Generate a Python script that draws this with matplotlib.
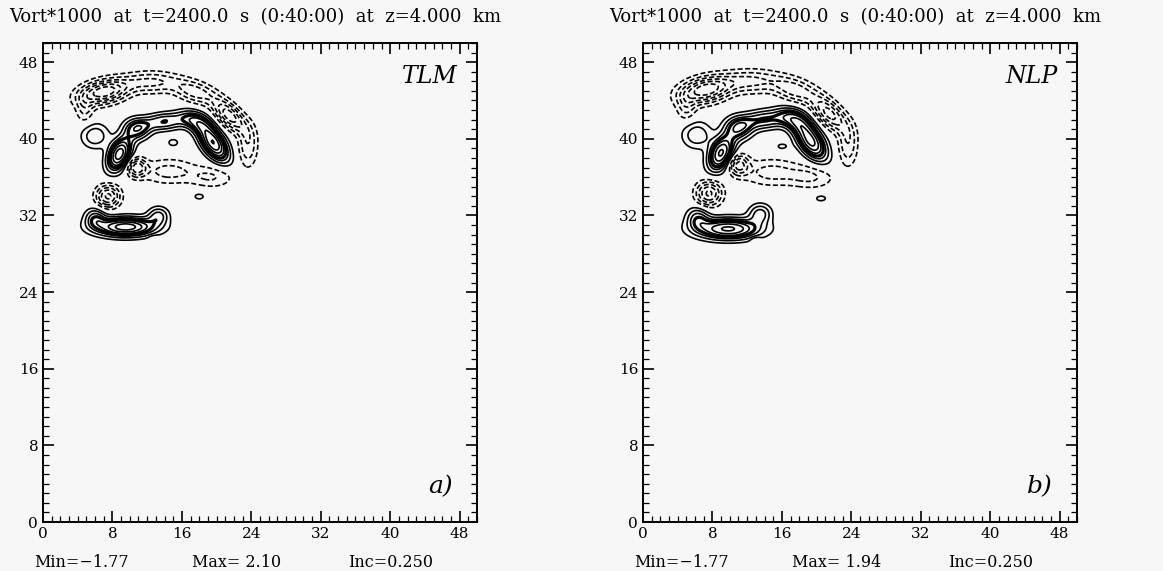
import numpy as np
import matplotlib
matplotlib.use("Agg")
import matplotlib.pyplot as plt
from matplotlib.ticker import MultipleLocator

# Vorticity features: centre x, centre y (km), amplitude,
# half-widths along/across (km), rotation (deg)
TLM_X = [6.0, 8.8, 10.8, 14.0, 17.6, 19.6, 15.0, 18.0, 9.5, 6.0, 13.3,
         7.0, 4.8, 12.5, 17.5, 21.5, 23.6, 10.8, 14.5, 19.5, 7.5, 12.8]
TLM_Y = [40.3, 38.4, 41.0, 41.8, 41.8, 39.6, 39.6, 34.0, 30.8, 31.8, 32.0,
         44.9, 43.0, 45.9, 44.9, 42.4, 39.3, 37.0, 36.6, 36.0, 34.0, 29.5]
TLM_AMP = [0.7, 1.9, 1.1, 1.0, 1.0, 2.0, 0.35, 0.3, 1.9, 0.8, 0.8,
           -1.7, -0.5, -0.8, -0.9, -1.4, -0.7, -1.1, -0.6, -0.5, -1.3, -0.3]
TLM_SX = [1.6, 1.9, 1.5, 2.6, 1.8, 2.3, 0.8, 1.1, 3.6, 1.2, 1.2,
          2.9, 1.0, 3.1, 2.5, 2.3, 1.1, 1.1, 3.2, 2.5, 1.4, 0.6]
TLM_SY = [1.3, 1.2, 1.1, 0.9, 1.0, 1.2, 0.5, 0.6, 1.0, 1.0, 0.9,
          1.2, 1.4, 1.1, 1.1, 1.1, 2.2, 1.0, 1.3, 1.1, 1.2, 0.4]
TLM_ROT = [0, 60, 0, 5, -20, -50, 0, 0, 0, 0, 0,
           10, 0, 0, -15, -40, 0, 0, 0, 0, 0, 0]

NLP_X = [6.2, 9.0, 11.0, 14.0, 17.4, 19.3, 16.0, 20.5, 9.8, 6.3, 13.5,
         7.2, 5.0, 12.5, 17.5, 21.5, 23.6, 11.0, 14.8, 19.5, 7.6, 13.0]
NLP_Y = [40.4, 38.5, 41.1, 42.0, 42.0, 39.8, 39.2, 33.8, 30.6, 31.8, 32.2,
         45.1, 43.2, 46.0, 45.1, 42.6, 39.4, 37.3, 36.5, 36.0, 34.3, 29.4]
NLP_AMP = [0.7, 1.8, 1.1, 1.0, 1.0, 1.85, 0.3, 0.3, 1.8, 0.8, 0.85,
           -1.7, -0.5, -0.8, -0.9, -1.35, -0.7, -1.05, -0.6, -0.5, -1.3, -0.3]
NLP_SX = [1.7, 2.0, 1.6, 2.7, 1.9, 2.4, 1.0, 1.2, 3.8, 1.3, 1.3,
          3.0, 1.1, 3.2, 2.6, 2.4, 1.1, 1.2, 3.4, 2.6, 1.5, 0.6]
NLP_SY = [1.4, 1.3, 1.2, 1.0, 1.1, 1.3, 0.5, 0.6, 1.1, 1.1, 1.0,
          1.3, 1.4, 1.2, 1.2, 1.2, 2.2, 1.1, 1.4, 1.2, 1.3, 0.4]
NLP_ROT = [0, 60, 0, 5, -20, -50, 0, 0, 0, 0, 0,
           10, 0, 0, -15, -40, 0, 0, 0, 0, 0, 0]

TITLE = "Vort*1000  at  t=2400.0  s  (0:40:00)  at  z=4.000  km"
STATS = [("-1.77", " 2.10", "0.250"), ("-1.77", " 1.94", "0.250")]
TAGS = ["TLM", "NLP"]
PANELS = ["a)", "b)"]

SHAPE = 1.1  # slightly flat-topped features

x = np.linspace(0, 50, 401)
y = np.linspace(0, 50, 401)
X, Y = np.meshgrid(x, y)


def field(xs, ys, amps, sxs, sys_, rots):
    z = np.zeros_like(X)
    for cx, cy, a, sx, sy, r in zip(xs, ys, amps, sxs, sys_, rots):
        t = np.deg2rad(r)
        u = (X - cx) * np.cos(t) + (Y - cy) * np.sin(t)
        v = -(X - cx) * np.sin(t) + (Y - cy) * np.cos(t)
        q = (u / sx) ** 2 + (v / sy) ** 2
        z += a * np.exp(-q ** SHAPE)
    return z


fields = [field(TLM_X, TLM_Y, TLM_AMP, TLM_SX, TLM_SY, TLM_ROT),
          field(NLP_X, NLP_Y, NLP_AMP, NLP_SX, NLP_SY, NLP_ROT)]

levels = [l for l in np.arange(-1.75, 2.01, 0.25) if abs(l) > 1e-6]

plt.rcParams['font.family'] = ['DejaVu Serif']
fig = plt.figure(figsize=(11.63, 5.71), dpi=100)
fig.patch.set_facecolor("#f7f7f7")

lefts = [43 / 1163, 643 / 1163]
for i in range(2):
    ax = fig.add_axes([lefts[i], 49 / 571, 434 / 1163, 479 / 571])
    ax.set_facecolor("#f7f7f7")
    z = fields[i]
    styles = [(0, (3, 1.5)) if l < 0 else "-" for l in levels]
    widths = [2.3 if abs(l - 1.0) < 1e-6 else 1.2 for l in levels]
    ax.contour(X, Y, z, levels=levels, colors="black",
               linestyles=styles, linewidths=widths)
    ax.set_xlim(0, 50)
    ax.set_ylim(0, 50)
    ax.xaxis.set_major_locator(MultipleLocator(8))
    ax.yaxis.set_major_locator(MultipleLocator(8))
    ax.xaxis.set_minor_locator(MultipleLocator(1))
    ax.yaxis.set_minor_locator(MultipleLocator(1))
    ax.tick_params(which="both", direction="in", top=True, right=True,
                   labelsize=11, colors="black")
    ax.tick_params(which="major", length=8, width=1.2)
    ax.tick_params(which="minor", length=4, width=0.9)
    for s in ax.spines.values():
        s.set_linewidth(1.4)
    ax.text(0.955, 0.955, TAGS[i], transform=ax.transAxes, ha="right", va="top",
            fontsize=17, style="italic")
    ax.text(0.945, 0.05, PANELS[i], transform=ax.transAxes, ha="right", va="bottom",
            fontsize=18, style="italic")
    ax.text(0.49, 1.035, TITLE, transform=ax.transAxes, ha="center", va="bottom",
            fontsize=13)
    mn, mx, inc = STATS[i]
    ax.text(-0.02, -0.085, "Min=" + mn.replace("-", "\u2212"), transform=ax.transAxes,
            ha="left", va="center", fontsize=11.5)
    ax.text(0.445, -0.085, "Max=" + mx, transform=ax.transAxes,
            ha="center", va="center", fontsize=11.5)
    ax.text(0.80, -0.085, "Inc=" + inc, transform=ax.transAxes,
            ha="center", va="center", fontsize=11.5)

plt.savefig("out.png", dpi=100, facecolor=fig.get_facecolor())
